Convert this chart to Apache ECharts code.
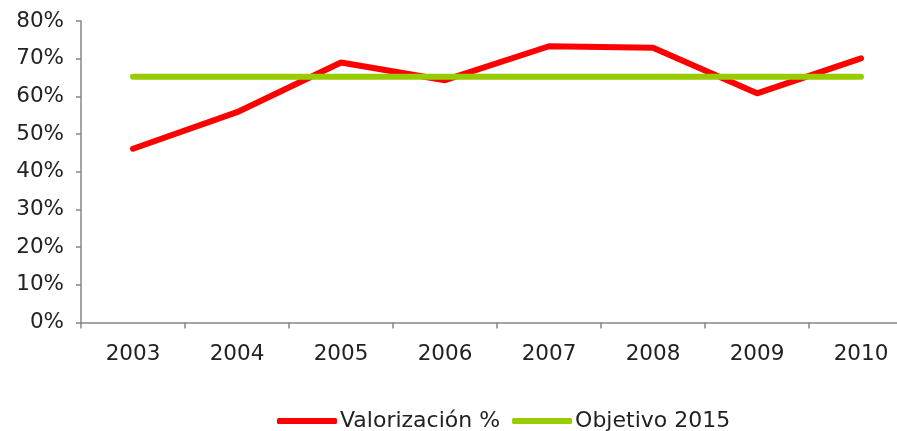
<!DOCTYPE html>
<html>
<head>
<meta charset="utf-8">
<script src="https://cdn.jsdelivr.net/npm/echarts@6/dist/echarts.min.js"></script>
<style>
	html, body { margin: 0; padding: 0; background: #fff; overflow: hidden; }
	/* the plot runs past the right edge of the frame, as in the original */
	#chart { width: 913px; height: 431px; }
</style>
</head>
<body>
<div id="chart"></div>
<script>
var years = ['2003', '2004', '2005', '2006', '2007', '2008', '2009', '2010'];
var valorizacion = [46.1, 55.8, 69.0, 64.3, 73.3, 72.9, 60.8, 70.1];
var objetivo = [65.2, 65.2, 65.2, 65.2, 65.2, 65.2, 65.2, 65.2];
var yTicks = [0, 10, 20, 30, 40, 50, 60, 70, 80];

var chart = echarts.init(document.getElementById('chart'));
var axisColor = '#868686';
var font = 'DejaVu Sans';

var option = {
	animation: false,
	grid: {
		left: 81,
		right: 0,
		top: 21,
		bottom: 108.5,
		containLabel: false
	},
	legend: {
		top: 405,
		left: 272,
		itemWidth: 60,
		itemHeight: 6,
		itemGap: 12,
		data: [
			{ name: 'Valorización %', icon: 'roundRect' },
			{ name: 'Objetivo 2015', icon: 'roundRect' }
		],
		textStyle: { fontFamily: font, fontSize: 22, color: '#222', padding: [0, 0, 0, -2] }
	},
	xAxis: {
		type: 'category',
		data: years,
		boundaryGap: true,
		axisLine: { lineStyle: { color: axisColor, width: 1.5 } },
		axisTick: { show: true, length: 6, lineStyle: { color: axisColor, width: 1.5 } },
		axisLabel: { fontFamily: font, fontSize: 21.5, color: '#222', margin: 21 },
		splitLine: { show: false }
	},
	yAxis: {
		type: 'value',
		min: yTicks[0],
		max: yTicks[yTicks.length - 1],
		interval: 10,
		axisLine: { show: true, lineStyle: { color: axisColor, width: 1.5 } },
		axisTick: { show: true, length: 5, lineStyle: { color: axisColor, width: 1.5 } },
		axisLabel: { fontFamily: font, fontSize: 21.5, color: '#222', margin: 17, formatter: '{value}%' },
		splitLine: { show: false }
	},
	series: [{
		name: 'Valorización %',
		type: 'line',
		data: valorizacion,
		symbol: 'none',
		lineStyle: { color: '#ff0000', width: 6, cap: 'round' },
		itemStyle: { color: '#ff0000' }
	}, {
		name: 'Objetivo 2015',
		type: 'line',
		data: objetivo,
		symbol: 'none',
		lineStyle: { color: '#99cc00', width: 6, cap: 'round' },
		itemStyle: { color: '#99cc00' }
	}]
};

chart.setOption(option);
</script>
</body>
</html>
